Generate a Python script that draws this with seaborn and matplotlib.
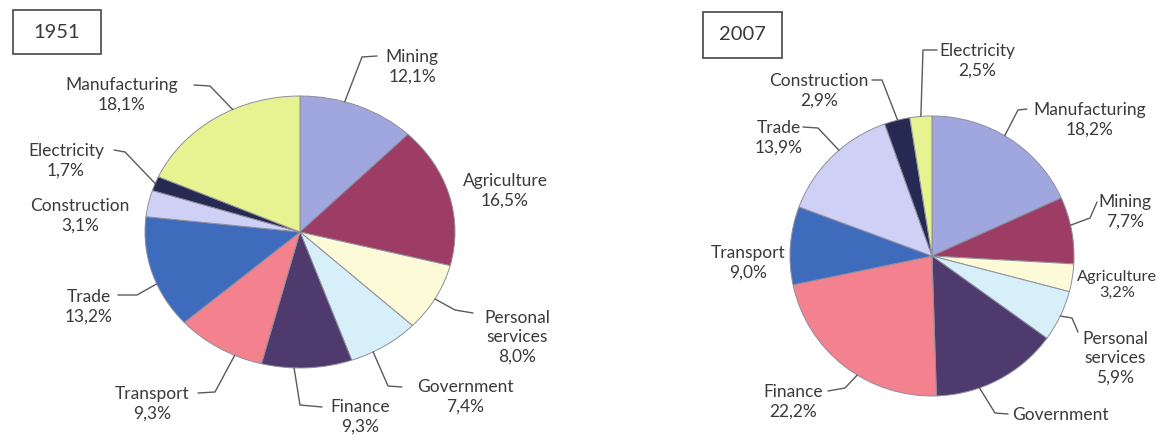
import numpy as np
import matplotlib
matplotlib.use("Agg")
import matplotlib.pyplot as plt
from matplotlib.patches import Rectangle
import seaborn as sns

# ---- data -------------------------------------------------------------
sectors_1951 = ["Mining", "Agriculture", "Personal services", "Government", "Finance",
                "Transport", "Trade", "Construction", "Electricity", "Manufacturing"]
shares_1951 = [12.1, 16.5, 8.0, 7.4, 9.3, 9.3, 13.2, 3.1, 1.7, 18.1]

sectors_2007 = ["Manufacturing", "Mining", "Agriculture", "Personal services", "Government",
                "Finance", "Transport", "Trade", "Construction", "Electricity"]
shares_2007 = [18.2, 7.7, 3.2, 5.9, 14.5, 22.2, 9.0, 13.9, 2.9, 2.5]
unlabelled_share_2007 = ["Government"]

# ---- styling ----------------------------------------------------------
sns.set_theme(style="white")
plt.rcParams["font.family"] = ["Lato", "DejaVu Sans"]

slice_colors = sns.color_palette(["#a0a7de", "#9d3c64", "#fcfad7", "#d7eff8", "#4e3a6c",
                                  "#f3818e", "#3f6bbd", "#cfd0f5", "#262952", "#e7f290"])
text_color = "#3a3a3a"
line_color = "#5a5a5a"

W, H = 1162, 447
fig = plt.figure(figsize=(W / 100, H / 100), dpi=100)
fig.patch.set_facecolor("white")

# pie geometry in pixels: centre x, centre y, radius x, radius y
pie_geom = {
    "1951": (300, 232, 155, 136),
    "2007": (932, 256, 142, 140),
}

# label placement: text position, alignment, font size, leader start (fraction along slice), leader path
layout_1951 = {
    "Mining": ((412, 67), "center", 12.5, 0.38, [(362, 57), (377, 56)]),
    "Agriculture": ((505, 191), "center", 12.5, None, []),
    "Personal services": ((517, 337), "center", 12.5, 0.52, [(455, 310), (473, 313)]),
    "Government": ((465, 397), "center", 12.5, 0.68, [(388, 386), (402, 387)]),
    "Finance": ((360, 417), "center", 12.5, 0.64, [(300, 405), (322, 407)]),
    "Transport": ((152, 404), "center", 12.5, 0.31, [(215, 392), (198, 393)]),
    "Trade": ((89, 307), "center", 12.5, 0.40, [(137, 295), (118, 295)]),
    "Construction": ((80, 216), "center", 12.5, None, []),
    "Electricity": ((66, 161), "center", 12.5, 0.5, [(125, 152), (114, 150)]),
    "Manufacturing": ((122, 95), "center", 12.5, 0.61, [(210, 86), (194, 85)]),
}
layout_2007 = {
    "Manufacturing": ((1090, 120), "center", 12.5, 0.47, [(1018, 110), (1027, 109)]),
    "Mining": ((1125, 212), "center", 12.5, 0.425, [(1090, 218), (1097, 202)]),
    "Agriculture": ((1077, 285), "left", 11.8, None, []),
    "Personal services": ((1115, 358), "center", 12.5, 0.5, [(1072, 318), (1078, 332)]),
    "Government": ((1060, 415), "center", 12.5, 0.66, [(995, 413), (1008, 414)]),
    "Finance": ((793, 402), "center", 12.5, 0.42, [(845, 388), (828, 391)]),
    "Transport": ((748, 263), "center", 12.5, None, []),
    "Trade": ((779, 138), "center", 12.5, 0.57, [(818, 128), (803, 127)]),
    "Construction": ((819, 91), "center", 12.5, 0.52, [(882, 80), (872, 80)]),
    "Electricity": ((977, 61), "center", 12.5, 0.5, [(923, 50), (937, 50)]),
}
title_boxes = {
    "1951": ((13, 10, 88, 44), (57, 33)),
    "2007": ((703, 12, 79, 46), (742, 35)),
}


def pct(v):
    return f"{v:.1f}".replace(".", ",") + "%"


def draw_pie(year, sectors, shares, layout, overlay, hide_value=()):
    cx, cy, rx, ry = pie_geom[year]
    ax = fig.add_axes([0, 0, 1, 1])
    wedges, _ = ax.pie(shares, colors=slice_colors[:len(shares)], startangle=90,
                       counterclock=False, radius=1.0,
                       wedgeprops=dict(edgecolor="#8e8e9c", linewidth=0.7))
    ax.set_aspect("auto")
    ax.set_xlim(-cx / rx, (W - cx) / rx)
    ax.set_ylim((cy - H) / ry, cy / ry)
    ax.axis("off")
    ax.patch.set_alpha(0)

    for name, value, wedge in zip(sectors, shares, wedges):
        (tx, ty), ha, size, frac, path = layout[name]
        shown = name.replace(" ", "\n")
        if name not in hide_value:
            shown += "\n" + pct(value)
        overlay.text(tx, ty, shown, ha=ha, va="center", multialignment="center",
                     fontsize=size, color=text_color, linespacing=1.25)
        if frac is not None:
            a = np.deg2rad(wedge.theta2 - frac * (wedge.theta2 - wedge.theta1))
            ex, ey = cx + rx * np.cos(a), cy - ry * np.sin(a)
            xs = [ex] + [p[0] for p in path]
            ys = [ey] + [p[1] for p in path]
            overlay.plot(xs, ys, color=line_color, lw=1.0, solid_joinstyle="round",
                         solid_capstyle="round")


overlay = fig.add_axes([0, 0, 1, 1], zorder=5)
overlay.set_xlim(0, W)
overlay.set_ylim(H, 0)
overlay.axis("off")
overlay.patch.set_alpha(0)

draw_pie("1951", sectors_1951, shares_1951, layout_1951, overlay)
draw_pie("2007", sectors_2007, shares_2007, layout_2007, overlay,
         hide_value=unlabelled_share_2007)

for year, ((bx, by, bw, bh), (tx, ty)) in title_boxes.items():
    overlay.add_patch(Rectangle((bx, by), bw, bh, fill=False, edgecolor="#555555", lw=1.3))
    overlay.text(tx, ty, year, ha="center", va="center", fontsize=14.5, color=text_color)

fig.savefig("out.png", dpi=100, facecolor="white")
